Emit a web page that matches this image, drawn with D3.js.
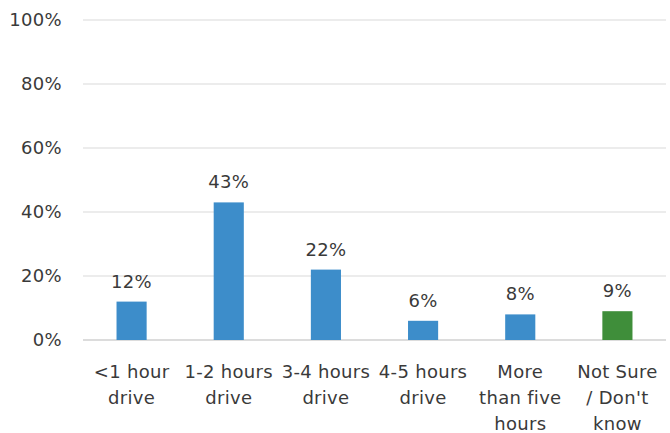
<!DOCTYPE html>
<html lang="en">
<head>
  <meta charset="UTF-8">
  <title>Drive time</title>
  <script src="https://d3js.org/d3.v7.min.js"></script>
  <style>
    body { margin: 0; background: #fff; font-family: "DejaVu Sans", sans-serif; }
    text { fill: #3a3a3a; font-size: 18px; letter-spacing: 0.3px; }
  </style>
</head>
<body>
  <svg width="670" height="433"></svg>
  <script>
    // Data
    const categories = [
      ["<1 hour", "drive"],
      ["1-2 hours", "drive"],
      ["3-4 hours", "drive"],
      ["4-5 hours", "drive"],
      ["More", "than five", "hours"],
      ["Not Sure", "/ Don't", "know"]
    ];
    const values = [12, 43, 22, 6, 8, 9];
    const barColors = ["#3d8dca", "#3d8dca", "#3d8dca", "#3d8dca", "#3d8dca", "#3f8e3a"];
    const yTicks = [0, 20, 40, 60, 80, 100];

    const margin = { top: 20, right: 4, bottom: 93, left: 83 };
    const width = 670 - margin.left - margin.right;
    const height = 433 - margin.top - margin.bottom;

    const svg = d3.select("svg");
    const chart = svg.append("g")
      .attr("transform", `translate(${margin.left},${margin.top})`);

    const x = d3.scaleBand()
      .domain(d3.range(categories.length))
      .range([0, width])
      .paddingInner(0.69)
      .paddingOuter(0.345);

    const y = d3.scaleLinear().domain([0, 100]).range([height, 0]);

    // gridlines
    chart.append("g")
      .selectAll("line")
      .data(yTicks)
      .enter()
      .append("line")
      .attr("x1", 0)
      .attr("x2", width)
      .attr("y1", d => y(d))
      .attr("y2", d => y(d))
      .attr("stroke", d => d === 0 ? "#d0d0d0" : "#d9d9d9")
      .attr("stroke-width", d => d === 0 ? 1.5 : 1);

    // y labels
    chart.append("g")
      .selectAll("text")
      .data(yTicks)
      .enter()
      .append("text")
      .attr("x", -21)
      .attr("y", d => y(d))
      .attr("dy", "0.35em")
      .attr("text-anchor", "end")
      .text(d => d + "%");

    // bars
    chart.selectAll(".bar")
      .data(values)
      .enter()
      .append("rect")
      .attr("class", "bar")
      .attr("x", (d, i) => x(i))
      .attr("y", d => y(d))
      .attr("width", x.bandwidth())
      .attr("height", d => height - y(d))
      .attr("fill", (d, i) => barColors[i]);

    // value labels
    chart.selectAll(".val")
      .data(values)
      .enter()
      .append("text")
      .attr("class", "val")
      .attr("x", (d, i) => x(i) + x.bandwidth() / 2)
      .attr("y", d => y(d) - 14)
      .attr("text-anchor", "middle")
      .text(d => d + "%");

    // category labels
    const cat = chart.selectAll(".cat")
      .data(categories)
      .enter()
      .append("text")
      .attr("class", "cat")
      .attr("text-anchor", "middle")
      .attr("transform", (d, i) => `translate(${x(i) + x.bandwidth() / 2},${height + 38})`);

    cat.selectAll("tspan")
      .data(d => d)
      .enter()
      .append("tspan")
      .attr("x", 0)
      .attr("y", (d, i) => i * 26)
      .text(d => d);
  </script>
</body>
</html>
